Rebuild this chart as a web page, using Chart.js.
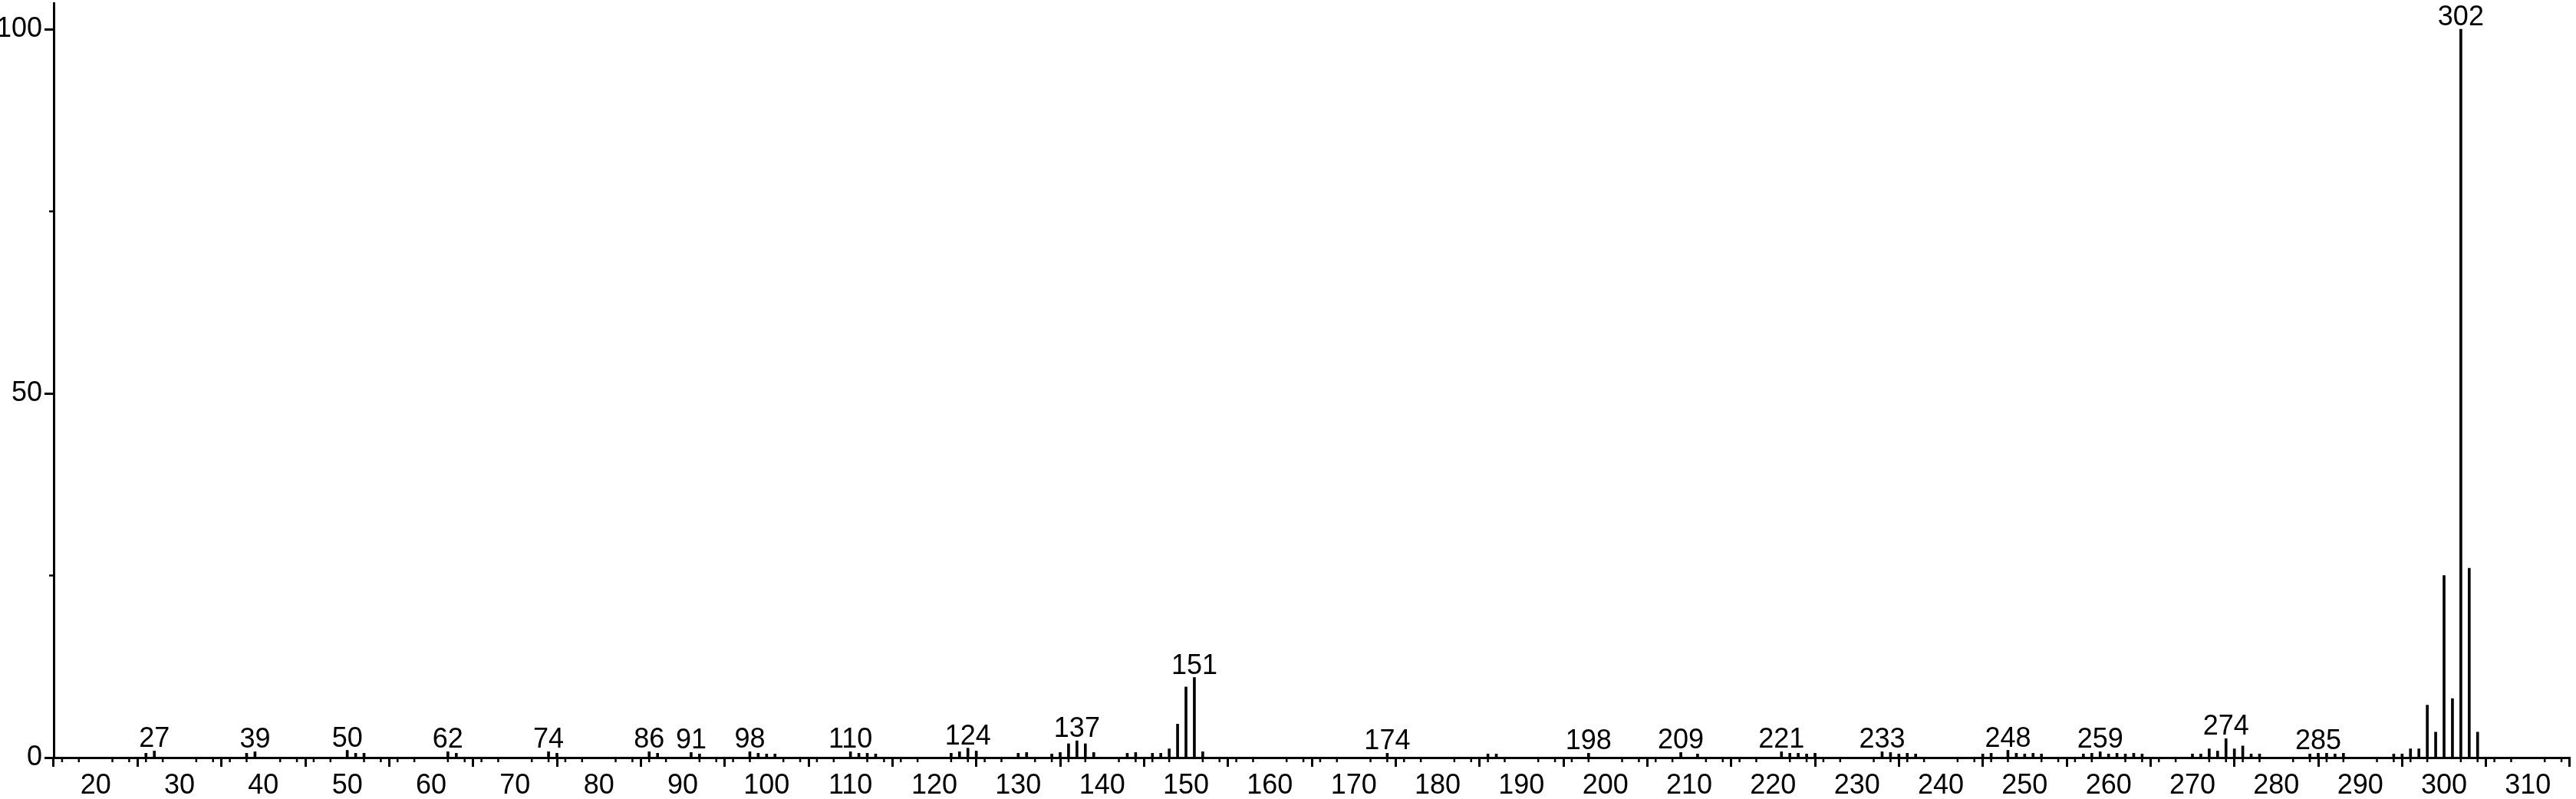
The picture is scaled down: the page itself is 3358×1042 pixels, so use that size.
<!DOCTYPE html>
<html>
<head>
<meta charset="utf-8">
<script src="https://cdn.jsdelivr.net/npm/chart.js@4.4.0/dist/chart.umd.min.js"></script>
<style>
  body { margin: 0; background: #fff; }
  canvas { display: block; }
</style>
</head>
<body>
<canvas id="msChart" width="3358" height="1042"></canvas>
<script>
// m/z values and relative intensities (%)
const mzValues = [
    26, 27, 38, 39, 50, 51, 52, 62, 63, 74, 75, 86, 87, 91, 92,
    98, 99, 100, 101, 110, 111, 112, 113, 122, 123, 124, 125, 130, 131,
    134, 135, 136, 137, 138, 139, 143, 144, 146, 147, 148, 149, 150, 151, 152,
    174, 186, 187, 198, 209, 211, 221, 222, 223, 224, 225,
    233, 234, 235, 236, 237, 245, 246, 248, 249, 250, 251, 252,
    257, 258, 259, 260, 261, 262, 263, 264,
    270, 271, 272, 273, 274, 275, 276, 277, 278,
    284, 285, 286, 287, 288,
    294, 295, 296, 297, 298, 299, 300, 301, 302, 303, 304
];
const intensities = [
    0.6, 0.9, 0.6, 0.8, 1.0, 0.6, 0.6, 0.8, 0.6, 0.8, 0.6, 0.8, 0.6, 0.7, 0.5,
    0.8, 0.6, 0.5, 0.5, 0.8, 0.6, 0.6, 0.5, 0.6, 0.8, 1.3, 0.9, 0.6, 0.7,
    0.5, 0.7, 1.9, 2.3, 1.9, 0.7, 0.6, 0.7, 0.6, 0.6, 1.2, 4.6, 9.7, 11.0, 0.8,
    0.6, 0.5, 0.5, 0.6, 0.7, 0.5, 0.8, 0.6, 0.6, 0.5, 0.6,
    0.8, 0.7, 0.5, 0.6, 0.5, 0.5, 0.6, 1.0, 0.6, 0.5, 0.6, 0.5,
    0.5, 0.6, 0.8, 0.5, 0.6, 0.5, 0.6, 0.5,
    0.5, 0.5, 1.2, 0.9, 2.6, 1.2, 1.6, 0.5, 0.5,
    0.5, 0.6, 0.6, 0.5, 0.6,
    0.5, 0.5, 1.2, 1.2, 7.2, 3.5, 25.0, 8.1, 100, 26.0, 3.5
];
// peaks that carry an m/z label
const labeledPeaks = [27, 39, 50, 62, 74, 86, 91, 98, 110, 124, 137, 151, 174, 198, 209, 221, 233, 248, 259, 274, 285, 302];
const xTickLabels = [20, 30, 40, 50, 60, 70, 80, 90, 100, 110, 120, 130, 140, 150, 160, 170, 180, 190, 200, 210, 220, 230, 240, 250, 260, 270, 280, 290, 300, 310];
const yTickLabels = [0, 50, 100];
const yMinorTicks = [25, 75];

const FONT = '"Liberation Sans", Arial, sans-serif';

const points = mzValues.map((mz, i) => ({ x: mz, y: intensities[i] }));

// peak labels and minor ticks, placed with the chart's own scales
const extras = {
    id: 'extras',
    afterDraw(chart) {
        const ctx = chart.ctx;
        const xs = chart.scales.x;
        const ys = chart.scales.y;
        ctx.save();
        ctx.strokeStyle = '#000';
        ctx.fillStyle = '#000';
        ctx.lineWidth = 2.5;
        const y0 = ys.getPixelForValue(0);
        for (let v = 16; v <= 314; v += 2) {
            if (v % 10 === 0) continue;
            const px = xs.getPixelForValue(v);
            ctx.beginPath();
            ctx.moveTo(px, y0);
            ctx.lineTo(px, y0 + 6);
            ctx.stroke();
        }
        const x0 = xs.left;
        yMinorTicks.forEach(v => {
            const py = ys.getPixelForValue(v);
            ctx.beginPath();
            ctx.moveTo(x0, py);
            ctx.lineTo(x0 - 6, py);
            ctx.stroke();
        });
        ctx.font = '36px ' + FONT;
        ctx.textAlign = 'center';
        ctx.textBaseline = 'alphabetic';
        labeledPeaks.forEach(mz => {
            const i = mzValues.indexOf(mz);
            const px = xs.getPixelForValue(mz);
            const py = ys.getPixelForValue(intensities[i]);
            ctx.fillText(String(mz), px, py - 5);
        });
        ctx.restore();
    }
};

const ctx = document.getElementById('msChart').getContext('2d');
new Chart(ctx, {
    type: 'bar',
    data: {
        datasets: [{
            data: points,
            backgroundColor: '#000',
            borderWidth: 0,
            barThickness: 3
        }]
    },
    options: {
        responsive: false,
        animation: false,
        events: [],
        layout: { padding: { top: 4, right: 8, left: 0, bottom: 0 } },
        plugins: {
            legend: { display: false },
            tooltip: { enabled: false }
        },
        scales: {
            x: {
                type: 'linear',
                min: 15,
                max: 315,
                offset: false,
                afterBuildTicks: scale => { scale.ticks = xTickLabels.map(v => ({ value: v })); },
                afterFit: scale => { scale.height = 54; },
                border: { display: true, color: '#000', width: 3 },
                grid: { drawOnChartArea: false, drawTicks: true, tickLength: 12, tickWidth: 3, tickColor: '#000' },
                ticks: { color: '#000', font: { family: FONT, size: 36 }, padding: 3, maxRotation: 0, autoSkip: false }
            },
            y: {
                min: 0,
                max: 103.6,
                afterBuildTicks: scale => { scale.ticks = yTickLabels.map(v => ({ value: v })); },
                afterFit: scale => { scale.width = 70; scale.paddingTop = 0; scale.paddingBottom = 0; },
                border: { display: true, color: '#000', width: 3 },
                grid: { drawOnChartArea: false, drawTicks: true, tickLength: 12, tickWidth: 3, tickColor: '#000' },
                ticks: { color: '#000', font: { family: FONT, size: 36 }, padding: 3 }
            }
        }
    },
    plugins: [extras]
});
</script>
</body>
</html>
